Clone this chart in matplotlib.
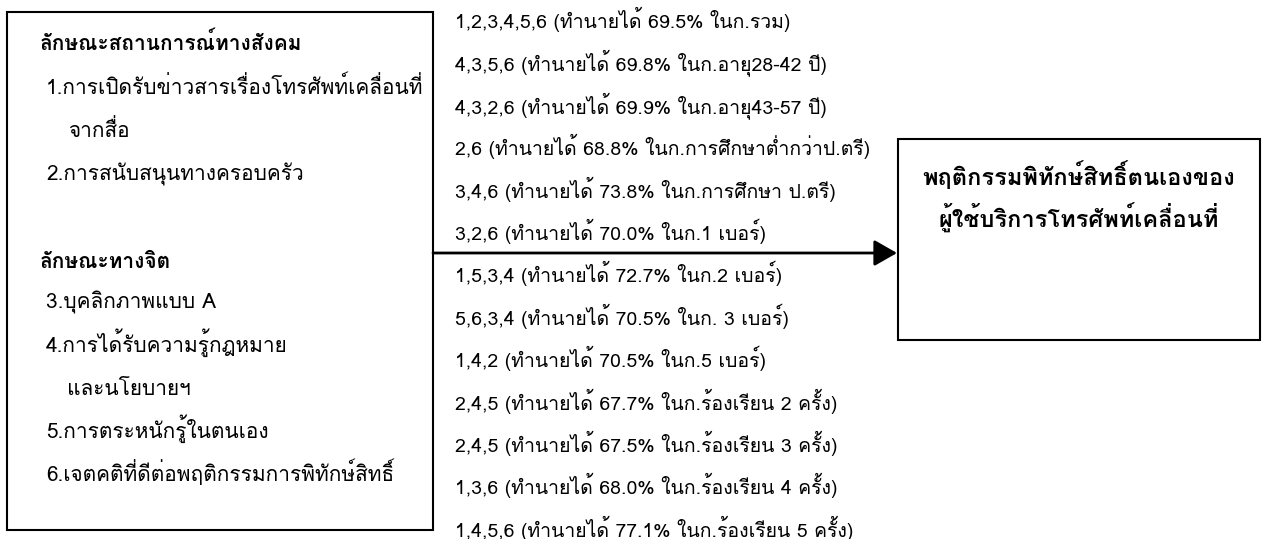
import matplotlib
matplotlib.use("Agg")
import matplotlib.pyplot as plt
from matplotlib.patches import Rectangle, FancyArrowPatch

plt.rcParams['font.family'] = ['Loma', 'DejaVu Sans']

left_header_1 = "ลักษณะสถานการณ์ทางสังคม"
left_items_1 = ["1.การเปิดรับข่าวสารเรื่องโทรศัพท์เคลื่อนที่", "จากสื่อ", "2.การสนับสนุนทางครอบครัว"]
left_header_2 = "ลักษณะทางจิต"
left_items_2 = ["3.บุคลิกภาพแบบ A", "4.การได้รับความรู้กฎหมาย", "และนโยบายฯ",
                "5.การตระหนักรู้ในตนเอง", "6.เจตคติที่ดีต่อพฤติกรรมการพิทักษ์สิทธิ์"]
factors = ["1,2,3,4,5,6", "4,3,5,6", "4,3,2,6", "2,6", "3,4,6", "3,2,6", "1,5,3,4",
           "5,6,3,4", "1,4,2", "2,4,5", "2,4,5", "1,3,6", "1,4,5,6"]
percent = [69.5, 69.8, 69.9, 68.8, 73.8, 70.0, 72.7, 70.5, 70.5, 67.7, 67.5, 68.0, 77.1]
groups = ["ในก.รวม", "ในก.อายุ28-42 ปี", "ในก.อายุ43-57 ปี", "ในก.การศึกษาต่ำกว่าป.ตรี",
          "ในก.การศึกษา ป.ตรี", "ในก.1 เบอร์", "ในก.2 เบอร์", "ในก. 3 เบอร์", "ในก.5 เบอร์",
          "ในก.ร้องเรียน 2 ครั้ง", "ในก.ร้องเรียน 3 ครั้ง", "ในก.ร้องเรียน 4 ครั้ง",
          "ในก.ร้องเรียน 5 ครั้ง"]
outcome = ["พฤติกรรมพิทักษ์สิทธิ์ตนเองของ", "ผู้ใช้บริการโทรศัพท์เคลื่อนที่"]

W, H = 1264, 539
fig = plt.figure(figsize=(W / 100, H / 100), dpi=100)
ax = fig.add_axes([0, 0, 1, 1])
ax.set_xlim(0, W)
ax.set_ylim(H, 0)
ax.axis('off')

fs_left = 15
fs_mid = 14
# left box
ax.add_patch(Rectangle((7, 12), 426, 518, fill=False, lw=1.5, ec='black'))
ax.text(40, 50, left_header_1, fontsize=fs_left, fontweight='bold', va='baseline')
ys1 = [94, 137, 181]
xs1 = [46, 68, 46]
for x, y, t in zip(xs1, ys1, left_items_1):
    ax.text(x, y, t, fontsize=fs_left, va='baseline')
ax.text(40, 268, left_header_2, fontsize=fs_left, fontweight='bold', va='baseline')
ys2 = [309, 352, 395, 438, 481]
xs2 = [46, 46, 67, 46, 46]
for x, y, t in zip(xs2, ys2, left_items_2):
    ax.text(x, y, t, fontsize=fs_left, va='baseline')

# middle list
y0, dy = 28, 42.4
for i, (f, p, g) in enumerate(zip(factors, percent, groups)):
    ax.text(455, y0 + i * dy, f"{f} (ทำนายได้ {p:.1f}% {g})", fontsize=fs_mid, va='baseline')

# arrow
ax.add_patch(FancyArrowPatch((433, 253), (897, 253), arrowstyle='-|>,head_length=14,head_width=8',
                             mutation_scale=1, lw=2.0, color='black', shrinkA=0, shrinkB=0))

# right box
ax.add_patch(Rectangle((898, 139), 362, 201, fill=False, lw=1.5, ec='black'))
ax.text(1079, 185, outcome[0], fontsize=17, fontweight='bold', ha='center', va='baseline')
ax.text(1079, 228, outcome[1], fontsize=17, fontweight='bold', ha='center', va='baseline')

fig.savefig("out.png", dpi=100)
